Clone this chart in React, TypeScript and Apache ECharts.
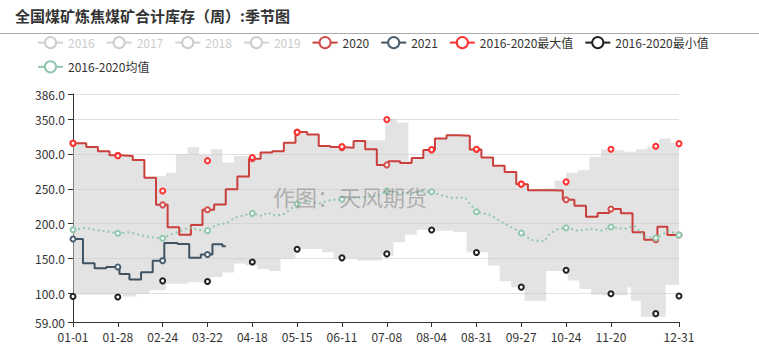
import React, { useEffect, useRef } from 'react';
import * as echarts from 'echarts';

const TITLE = '全国煤矿炼焦煤矿合计库存（周）:季节图';
const WATERMARK = '作图：天风期货';
const FONT = '"Microsoft YaHei", "Noto Sans CJK SC", "Noto Sans", sans-serif';

// x values are day-of-year indices on a 2020 (leap-year) calendar, 0 = 01-01
const markerDays = [0, 27, 54, 81, 108, 135, 162, 189, 216, 243, 270, 297, 324, 351, 365];
const labelDays = [0, 27, 54, 81, 108, 135, 162, 189, 216, 243, 270, 297, 324, 365];

const legendNames = ['2016', '2017', '2018', '2019', '2020', '2021', '2016-2020最大值', '2016-2020最小值', '2016-2020均值'];

const days2020 = [0, 8, 15, 22, 29, 36, 43, 50, 57, 64, 71, 78, 85, 92, 99, 106, 113, 120, 127, 134, 141, 148, 155, 162, 169, 176, 183, 190, 197, 204, 211, 218, 225, 232, 239, 246, 253, 260, 267, 274, 281, 288, 295, 302, 309, 316, 323, 330, 337, 344, 352, 358, 365];
const values2020 = [315.2, 310, 304, 298, 297, 291.5, 266, 227, 195, 184.3, 198, 220, 227.6, 249.5, 267.6, 293.3, 302, 304, 316, 331.4, 328, 311.4, 310, 309, 318.6, 306.7, 284.3, 289.5, 287, 294.3, 305.7, 322, 326.7, 326, 306.5, 294.8, 283, 274.3, 256.7, 248, 248, 247.5, 234.3, 225.7, 210, 215.2, 221, 214.8, 187.6, 177, 195.7, 183.8, 183.8];

const days2021 = [0, 6, 13, 20, 28, 34, 41, 48, 55, 63, 70, 77, 84, 90, 92];
const values2021 = [178, 143.3, 136, 138, 128, 120, 130.5, 147, 172.4, 171, 151, 155.7, 170.5, 167.6, 167.6];

const maxMarkers = [315.5, 297.5, 247, 290.4, 295, 331, 310.5, 349.5, 306.2, 306.7, 256.7, 260, 306.7, 311, 314.8];
const minMarkers = [95.7, 94.8, 118, 117, 145, 163.3, 151, 156.7, 191, 158.6, 109, 133.3, 99.5, 71, 96.2];

const meanDays = [0, 7, 14, 20, 27, 34, 40, 46, 54, 58, 64, 70, 76, 81, 86, 92, 98, 108, 114, 117, 122, 127, 131, 135, 141, 148, 155, 162, 169, 177, 184, 189, 195, 203, 209, 216, 223, 229, 236, 243, 251, 257, 264, 270, 276, 284, 287, 292, 297, 304, 312, 318, 324, 332, 338, 345, 351, 359, 365];
const meanValues = [191.4, 194, 191, 189, 186.2, 187.6, 184, 181, 179, 183.7, 188.5, 194.7, 191, 190, 198, 200.5, 209, 214.8, 211, 216, 211.4, 213.8, 221, 228.1, 232.9, 229, 233.8, 235.2, 236.7, 238.6, 240, 246.7, 244.8, 243.3, 245.7, 245.7, 240, 236.7, 237.6, 217.1, 212.9, 204.3, 194.8, 186.7, 176.7, 174.8, 185.2, 192.4, 194.3, 190, 192.4, 190, 195.2, 192.4, 197.1, 180.5, 179.5, 190, 183.8];

const bandUpperDays = [0, 8, 15, 22, 29, 36, 43, 49, 56, 62, 69, 76, 83, 90, 97, 106, 113, 120, 127, 134, 141, 148, 155, 162, 169, 188, 195, 202, 204, 211, 218, 225, 232, 239, 246, 253, 260, 267, 274, 283, 290, 297, 304, 311, 318, 325, 332, 339, 346, 353, 360, 365];
const bandUpperValues = [316, 311, 305, 299, 298, 292.5, 267, 268, 273, 300, 309.6, 298.6, 306.7, 287.6, 297, 294.3, 303, 305, 317, 332.4, 329, 312.4, 311, 310, 319.6, 350, 345, 290, 295.3, 306.7, 323, 327.7, 327, 307.5, 295.8, 284, 275.3, 257.7, 249, 251, 262, 273, 276.5, 296, 306.7, 305.5, 303, 306.7, 310.5, 322, 316, 316];

const bandLowerDays = [0, 30, 38, 46, 56, 69, 83, 90, 97, 104, 111, 118, 125, 134, 150, 157, 171, 186, 193, 200, 207, 215, 229, 237, 250, 257, 264, 272, 285, 298, 305, 312, 319, 334, 336, 342, 357, 365];
const bandLowerValues = [98.5, 95.5, 99.5, 104.5, 114, 116, 123.5, 130, 143, 140, 135, 132, 149.6, 163.8, 159, 150, 147.1, 154.3, 173.3, 184.3, 191.4, 190, 188, 159, 140, 117.6, 109, 89.5, 132, 118.6, 106.2, 98.6, 97.5, 109, 89.5, 66.5, 112, 112];

const Y_MIN = 59;
const Y_MAX = 386;

function stepAt(days: number[], values: number[], d: number): number {
  let v = values[0];
  for (let i = 0; i < days.length; i++) {
    if (days[i] <= d) v = values[i];
    else break;
  }
  return v;
}

function withMarkers(days: number[], values: number[]) {
  const last = days[days.length - 1];
  const map = new Map<number, number>();
  days.forEach((d, i) => map.set(d, values[i]));
  markerDays.forEach((m) => {
    if (m <= last && !map.has(m)) map.set(m, stepAt(days, values, m));
  });
  return Array.from(map.keys())
    .sort((a, b) => a - b)
    .map((d) => ({ value: [d, map.get(d)], symbol: markerDays.includes(d) ? 'emptyCircle' : 'none' }));
}

function fmtDay(d: number): string {
  const dt = new Date(Date.UTC(2020, 0, 1 + Math.round(d)));
  const mm = String(dt.getUTCMonth() + 1).padStart(2, '0');
  const dd = String(dt.getUTCDate()).padStart(2, '0');
  return `${mm}-${dd}`;
}

export default function App() {
  const ref = useRef<HTMLDivElement>(null);

  useEffect(() => {
    if (!ref.current) return;
    const chart = echarts.init(ref.current, undefined, { renderer: 'svg' });

    const bandDays = Array.from(new Set([...bandUpperDays, ...bandLowerDays])).sort((a, b) => a - b);

    const renderBand = (_params: any, api: any) => {
      const upper: number[][] = [];
      const lower: number[][] = [];
      for (let i = 0; i < bandDays.length; i++) {
        const d0 = bandDays[i];
        const d1 = i + 1 < bandDays.length ? bandDays[i + 1] : d0;
        const u = stepAt(bandUpperDays, bandUpperValues, d0);
        const l = stepAt(bandLowerDays, bandLowerValues, d0);
        upper.push(api.coord([d0, u]), api.coord([d1, u]));
        lower.push(api.coord([d0, l]), api.coord([d1, l]));
      }
      const points = upper.concat(lower.reverse());
      return {
        type: 'polygon',
        shape: { points },
        style: { fill: 'rgba(200,200,200,0.5)', stroke: 'none' },
        silent: true,
      };
    };

    const markerLine = (name: string, color: string, vals: number[]) => ({
      name,
      type: 'line',
      data: markerDays.map((d, i) => [d, vals[i]]),
      symbol: 'emptyCircle',
      symbolSize: 5,
      showAllSymbol: true,
      color,
      itemStyle: { color, borderWidth: 1.5 },
      lineStyle: { color, width: 2, opacity: 0 },
      z: 5,
    });

    const option: any = {
      animation: false,
      textStyle: { fontFamily: FONT },
      title: {
        text: TITLE,
        left: 10,
        top: 3,
        textStyle: { fontSize: 15, fontWeight: 'bold', color: '#333', fontFamily: FONT },
      },
      graphic: [
        {
          type: 'line',
          shape: { x1: 0, y1: 33.5, x2: 759, y2: 33.5 },
          style: { stroke: '#aaaaaa', lineWidth: 1 },
          silent: true,
        },
        {
          type: 'text',
          x: 350,
          y: 196,
          z: 100,
          silent: true,
          style: {
            text: WATERMARK,
            fill: 'rgba(130,130,130,0.55)',
            fontSize: 22,
            fontFamily: FONT,
            align: 'center',
            verticalAlign: 'middle',
          },
        },
      ],
      legend: {
        left: 32,
        top: 31,
        itemGap: 11,
        itemWidth: 25,
        itemHeight: 14,
        inactiveColor: '#ccc',
        textStyle: { fontSize: 12, color: '#333', fontFamily: FONT },
        data: legendNames.map((n) => {
          if (n.indexOf('最大值') >= 0 || n.indexOf('最小值') >= 0) return { name: n, lineStyle: { opacity: 1 } };
          if (n.indexOf('均值') >= 0) return { name: n, lineStyle: { type: 'solid' } };
          return n;
        }),
        selected: { '2016': false, '2017': false, '2018': false, '2019': false },
      },
      grid: { left: 73, right: 80, top: 94, bottom: 25 },
      xAxis: {
        type: 'value',
        min: 0,
        max: 365,
        interval: 27,
        splitLine: { show: false },
        axisLine: { show: true, lineStyle: { color: '#333' } },
        axisTick: { show: true, length: 5, customValues: labelDays, lineStyle: { color: '#333' } },
        axisLabel: {
          customValues: labelDays,
          color: '#333',
          fontSize: 12,
          margin: 8,
          formatter: (v: number) => (v === 351 ? '' : fmtDay(v)),
        },
      },
      yAxis: {
        type: 'value',
        min: Y_MIN,
        max: Y_MAX,
        splitNumber: 5,
        axisLine: { show: true, lineStyle: { color: '#333' } },
        axisTick: { show: true, length: 5, lineStyle: { color: '#333' } },
        axisLabel: {
          color: '#333',
          fontSize: 12,
          margin: 8,
          formatter: (v: number) => (v === Y_MIN ? v.toFixed(2) : v.toFixed(1)),
        },
        splitLine: { show: true, lineStyle: { color: '#e0e0e0' } },
      },
      series: [
        {
          name: 'band',
          type: 'custom',
          silent: true,
          z: 1,
          data: [[0, Y_MIN]],
          renderItem: renderBand,
        },
        { name: '2016', type: 'line', data: [], color: '#c23531' },
        { name: '2017', type: 'line', data: [], color: '#2f4554' },
        { name: '2018', type: 'line', data: [], color: '#61a0a8' },
        { name: '2019', type: 'line', data: [], color: '#d48265' },
        {
          name: '2020',
          type: 'line',
          step: 'end',
          data: withMarkers(days2020, values2020),
          symbol: 'emptyCircle',
          symbolSize: 5,
          showAllSymbol: true,
          color: '#c23531',
          itemStyle: { color: '#d0504c', borderWidth: 1.5 },
          lineStyle: { color: '#c9403c', width: 2 },
          z: 3,
        },
        {
          name: '2021',
          type: 'line',
          step: 'end',
          data: withMarkers(days2021, values2021),
          symbol: 'emptyCircle',
          symbolSize: 5,
          showAllSymbol: true,
          color: '#2f4554',
          itemStyle: { color: '#4a5e6e', borderWidth: 1.5 },
          lineStyle: { color: '#3f5363', width: 2 },
          z: 3,
        },
        markerLine('2016-2020最大值', '#ff3030', maxMarkers),
        markerLine('2016-2020最小值', '#222222', minMarkers),
        {
          name: '2016-2020均值',
          type: 'line',
          data: meanDays.map((d, i) => ({
            value: [d, meanValues[i]],
            symbol: markerDays.includes(d) ? 'emptyCircle' : 'none',
          })),
          symbol: 'emptyCircle',
          symbolSize: 5,
          showAllSymbol: true,
          color: '#91c7ae',
          itemStyle: { color: '#91c7ae', borderWidth: 1.5 },
          lineStyle: { color: '#91c7ae', width: 2, type: [2, 3] },
          z: 4,
        },
      ],
    };

    chart.setOption(option);
    return () => chart.dispose();
  }, []);

  return (
    <div
      ref={ref}
      style={{ position: 'fixed', left: 0, top: 0, width: 759, height: 347, background: '#fff' }}
    />
  );
}
